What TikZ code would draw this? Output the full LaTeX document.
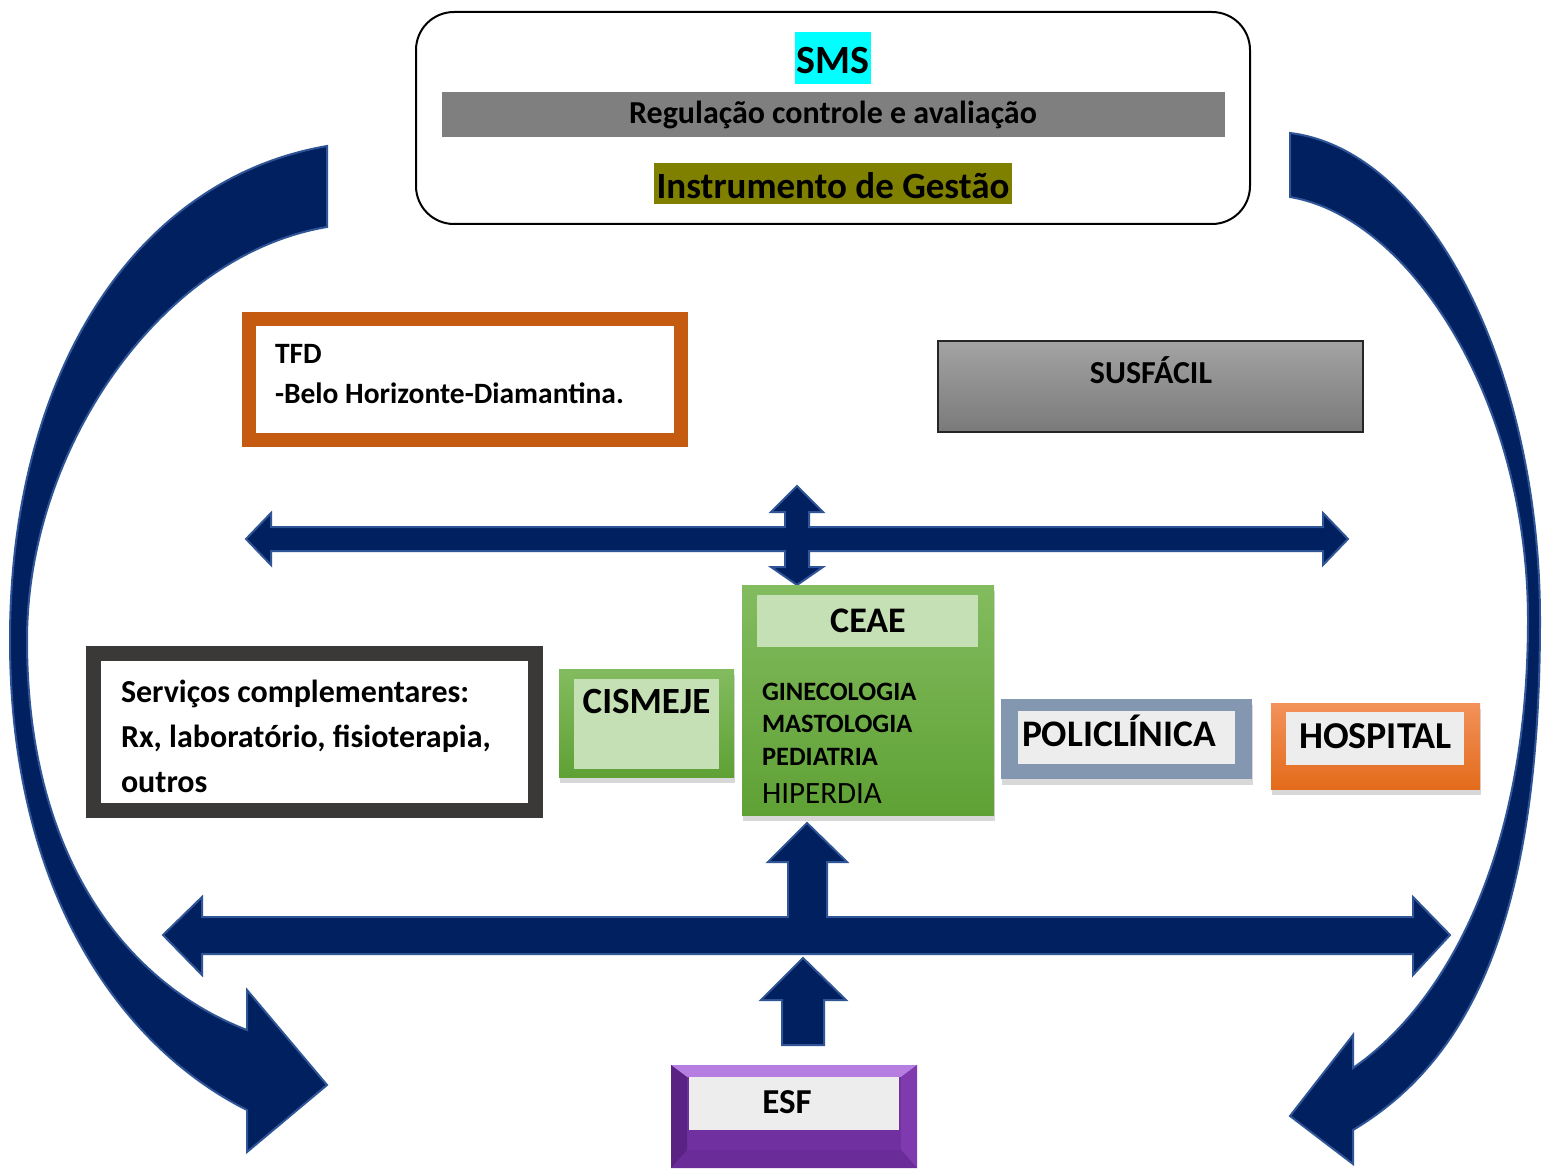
\documentclass[tikz,border=0pt]{standalone}
\usepackage{fontspec}
\setmainfont{Carlito}
\usetikzlibrary{shadows}
\definecolor{navy}{HTML}{002060}
\definecolor{navyedge}{HTML}{2F5597}
\definecolor{smscyan}{HTML}{00FFFF}
\definecolor{reggray}{HTML}{7F7F7F}
\definecolor{olivebg}{HTML}{808000}
\definecolor{tfdorange}{HTML}{C55A11}
\definecolor{servgray}{HTML}{3B3838}
\definecolor{greentop}{HTML}{83BC5F}
\definecolor{greenbot}{HTML}{5FA135}
\definecolor{greenlight}{HTML}{C5E0B4}
\definecolor{poliblue}{HTML}{8497B0}
\definecolor{panel}{HTML}{EDEDED}
\definecolor{hosptop}{HTML}{F3925B}
\definecolor{hospbot}{HTML}{E36B1B}
\definecolor{susftop}{HTML}{A3A3A3}
\definecolor{susfbot}{HTML}{7A7A7A}
\definecolor{purp}{HTML}{7030A0}
\definecolor{purplight}{HTML}{B67EE0}
\definecolor{purpdark}{HTML}{5A2383}
\definecolor{purpright}{HTML}{7E3AAE}
\definecolor{purpbot}{HTML}{6A2C98}
\newcommand{\myfs}[1]{\fontsize{#1}{#1}\selectfont}
\begin{document}
\begin{tikzpicture}[x=1pt,y=-1pt,
  bigarrow/.style={fill=navy, draw=navyedge, line width=2pt, line join=miter},
  boxn/.style={inner sep=0pt, outer sep=0pt},
  lbl/.style={inner sep=0pt, outer sep=0pt, font=\bfseries},
  txt/.style={inner sep=0pt, outer sep=0pt},
  shad/.style={drop shadow={shadow xshift=1pt, shadow yshift=-6pt, opacity=0.25, fill=black!60}},
  greenbox/.style={boxn, top color=greentop, bottom color=greenbot, shad},
  panelbox/.style={boxn, fill=panel}
]
\useasboundingbox (0,0) rectangle (1543,1169);
\fill[white] (0,0) rectangle (1543,1169);

% curved arrows
\path[bigarrow] (327,146) .. controls (130,180) and (10,380) .. (10,640)
  .. controls (10,900) and (127,1050) .. (247,1110)
  -- (247,1152) -- (327,1085) -- (247,990) -- (247,1030)
  .. controls (137,988) and (27,870) .. (27,640)
  .. controls (27,450) and (160,255) .. (327,227) -- cycle;
\path[bigarrow] (1290,133) .. controls (1430,150) and (1540,370) .. (1540,620)
  .. controls (1540,920) and (1470,1060) .. (1353,1130)
  -- (1353,1164) -- (1290,1116) -- (1353,1035) -- (1353,1068)
  .. controls (1443,1006) and (1528,860) .. (1528,620)
  .. controls (1528,400) and (1410,217) .. (1290,197) -- cycle;

% top box
\node[boxn, draw=black, line width=2pt, rounded corners=38pt, minimum width=834pt, minimum height=212pt] (sms) at (833,118) {};
\node[boxn, fill=smscyan, minimum width=76pt, minimum height=52pt] (smsbg) at (833,58) {};
\node[lbl, anchor=base] (smst) at (833,74) {\myfs{40}SMS};
\node[boxn, fill=reggray, minimum width=783pt, minimum height=45pt] (reg) at (833.5,114.5) {};
\node[lbl, anchor=base] (regt) at (833,124) {\myfs{32}Regulação controle e avaliação};
\node[boxn, fill=olivebg, minimum width=358pt, minimum height=41pt] (ig) at (833,184) {};
\node[lbl, anchor=base] (igt) at (833,199) {\myfs{37}Instrumento de Gestão};

% TFD
\node[boxn, draw=tfdorange, line width=14pt, minimum width=432pt, minimum height=121pt] (tfd) at (465,379.5) {};
\node[lbl, anchor=base west] (tfdt) at (275,363) {\myfs{29.5}TFD};
\node[lbl, anchor=base west] (tfdt2) at (275,403) {\myfs{29.5}-Belo Horizonte-Diamantina.};

% SUSFACIL
\node[boxn, draw=black!85, line width=1.5pt, top color=susftop, bottom color=susfbot, minimum width=425pt, minimum height=91pt] (susf) at (1150.5,386.5) {};
\node[lbl, anchor=base] (susft) at (1151,383) {\myfs{32}SUSFÁCIL};

% upper cross arrow
\path[bigarrow] (246,539) -- (271,513) -- (271,527) -- (785,527) -- (785,512) -- (771,512)
  -- (797,486) -- (823,512) -- (809,512) -- (809,527) -- (1323,527) -- (1323,513)
  -- (1348,539) -- (1323,565) -- (1323,551) -- (809,551) -- (809,567) -- (823,567)
  -- (797,585) -- (771,567) -- (785,567) -- (785,551) -- (271,551) -- (271,565) -- cycle;

% lower T arrow
\path[bigarrow] (163,935) -- (202,897) -- (202,917) -- (788,917) -- (788,862) -- (768,862)
  -- (807,823) -- (847,862) -- (827,862) -- (827,917) -- (1413,917) -- (1413,897)
  -- (1450,935) -- (1413,975) -- (1413,954) -- (202,954) -- (202,975) -- cycle;

% ESF up arrow
\path[bigarrow] (803,958) -- (846,1000) -- (824,1000) -- (824,1045) -- (782,1045) -- (782,1000) -- (761,1000) -- cycle;

% Servicos
\node[boxn, draw=servgray, line width=15pt, fill=white, minimum width=442pt, minimum height=157pt,
  drop shadow={shadow xshift=1pt, shadow yshift=-5pt, opacity=0.1, fill=black!40}] (serv) at (314.5,732) {};
\node[lbl, anchor=base west] (servt1) at (121,702) {\myfs{32}Serviços complementares:};
\node[lbl, anchor=base west] (servt2) at (121,747) {\myfs{32}Rx, laboratório, fisioterapia,};
\node[lbl, anchor=base west] (servt3) at (121,792) {\myfs{32}outros};

% CISMEJE
\node[greenbox, minimum width=175pt, minimum height=108pt] (cis) at (646.5,723) {};
\node[panelbox, fill=greenlight, minimum width=145pt, minimum height=90pt] (cisp) at (646.5,724) {};
\node[lbl, anchor=base] (cist) at (646.5,713) {\myfs{37}CISMEJE};

% CEAE
\node[greenbox, minimum width=252pt, minimum height=230pt] (ceae) at (868,700) {};
\node[panelbox, fill=greenlight, minimum width=221pt, minimum height=52pt] (ceaep) at (867.5,621) {};
\node[lbl, anchor=base] (ceaet) at (868,632) {\myfs{36}CEAE};
\node[lbl, anchor=base west] (gin) at (762,700) {\myfs{26.5}GINECOLOGIA};
\node[lbl, anchor=base west] (mas) at (762,732) {\myfs{26.5}MASTOLOGIA};
\node[lbl, anchor=base west] (ped) at (762,765) {\myfs{26.5}PEDIATRIA};
\node[txt, anchor=base west] (hip) at (762,803) {\myfs{31}HIPERDIA};

% POLICLINICA
\node[boxn, fill=poliblue, shad, minimum width=251pt, minimum height=80pt] (poli) at (1126.5,739) {};
\node[panelbox, minimum width=217pt, minimum height=53pt] (polip) at (1126.5,737.5) {};
\node[lbl, anchor=base west] (polit) at (1022,746) {\myfs{37.5}POLICLÍNICA};

% HOSPITAL
\node[boxn, top color=hosptop, bottom color=hospbot, shad, minimum width=209pt, minimum height=86pt] (hosp) at (1375.5,746) {};
\node[panelbox, minimum width=178pt, minimum height=53pt] (hospp) at (1375,738.5) {};
\node[lbl, anchor=base] (hospt) at (1375.5,748) {\myfs{38}HOSPITAL};

% ESF bevel box
\node[boxn, fill=purp, minimum width=246pt, minimum height=103pt] (esf) at (794,1116.5) {};
\fill[purplight] (671,1065) -- (917,1065) -- (903,1077) -- (685,1077) -- cycle;
\fill[purpright] (917,1065) -- (917,1168) -- (901,1150) -- (901,1077) -- cycle;
\fill[purpbot] (917,1168) -- (671,1168) -- (687,1150) -- (901,1150) -- cycle;
\fill[purpdark] (671,1168) -- (671,1065) -- (687,1077) -- (687,1150) -- cycle;
\node[panelbox, minimum width=210pt, minimum height=53pt] (esfp) at (794,1103.5) {};
\node[lbl, anchor=base] (esft) at (787,1113) {\myfs{35}ESF};
\end{tikzpicture}
\end{document}
